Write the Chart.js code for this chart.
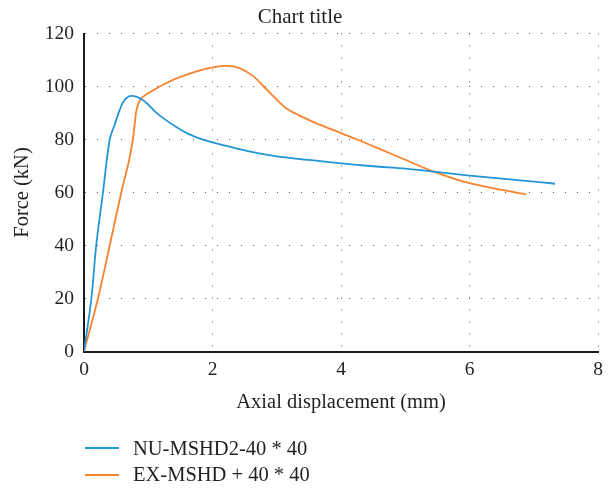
<!DOCTYPE html>
<html>
<head>
<meta charset="utf-8">
<title>Force - displacement</title>
<script src="https://cdn.jsdelivr.net/npm/chart.js@4.4.1/dist/chart.umd.min.js"></script>
<style>
    html, body { margin: 0; padding: 0; background: #fff; }
    #wrap { position: relative; width: 610px; height: 489px; }
    #legend {
        position: absolute; left: 85px; top: 435px;
        font-family: 'Liberation Serif', serif; font-size: 20.5px; color: #231f20;
    }
    .legend-item { display: flex; align-items: center; height: 26.5px; }
    .legend-line { width: 34px; height: 2px; margin-right: 14px; }
</style>
</head>
<body>
<div id="wrap">
    <canvas id="forceChart" width="610" height="489"></canvas>
    <div id="legend"></div>
</div>
<script>
// Load - displacement curves (x: mm, y: kN)
const nuDisp  = [0, 0.115, 0.19, 0.295, 0.40, 0.476, 0.555, 0.63, 0.735, 0.915, 1.17, 1.51, 1.75, 2.0, 2.4, 2.72, 3.0, 3.5, 4.0, 4.5, 5.0, 5.44, 6.0, 6.5, 7.0, 7.33];
const nuForce = [0, 20, 40, 60, 80, 85.5, 91.1, 94.9, 96.5, 94.9, 89.2, 83.6, 80.8, 78.9, 76.5, 74.8, 73.6, 72.3, 71.0, 69.9, 69.0, 67.9, 66.4, 65.2, 64.1, 63.3];

const exDisp  = [0, 0.217, 0.40, 0.58, 0.70, 0.76, 0.79, 0.82, 0.89, 1.07, 1.3, 1.5, 1.79, 2.0, 2.21, 2.41, 2.62, 2.80, 2.98, 3.14, 3.34, 3.60, 4.0, 4.27, 4.89, 5.44, 6.0, 6.5, 6.88];
const exForce = [0, 20, 40, 60, 72, 80, 86, 91.5, 95.5, 98.5, 101.5, 103.6, 106.0, 107.2, 107.8, 107.0, 104.1, 99.9, 95.5, 91.9, 89.2, 86.3, 82.4, 79.8, 73.5, 67.9, 63.5, 61.0, 59.3];

const seriesNames = ['NU-MSHD2-40 * 40', 'EX-MSHD + 40 * 40'];
const seriesColors = ['#2196d6', '#f7832f'];

const xTicks = [0, 2, 4, 6, 8];
const yTicks = [0, 20, 40, 60, 80, 100, 120];

const FONT = "'Liberation Serif', 'Times New Roman', serif";
const TEXT = '#231f20';

function toPoints(xs, ys) {
    return xs.map((x, i) => ({ x: x, y: ys[i] }));
}

function makeDataset(i, xs, ys) {
    return {
        label: seriesNames[i],
        data: toPoints(xs, ys),
        borderColor: seriesColors[i],
        backgroundColor: seriesColors[i],
        borderWidth: 1.8,
        pointRadius: 0,
        showLine: true,
        tension: 0.35
    };
}

const chart = new Chart(document.getElementById('forceChart'), {
    type: 'scatter',
    data: {
        datasets: [
            makeDataset(0, nuDisp, nuForce),
            makeDataset(1, exDisp, exForce)
        ]
    },
    options: {
        responsive: false,
        animation: false,
        layout: { padding: { left: 0, right: 10, top: 0, bottom: 72.5 } },
        plugins: {
            legend: { display: false },
            tooltip: { enabled: false },
            title: {
                display: true,
                text: 'Chart title',
                color: TEXT,
                font: { family: FONT, size: 21, weight: 'normal', lineHeight: 1.2 },
                padding: { top: 5, bottom: 3.3 }
            }
        },
        scales: {
            x: {
                type: 'linear',
                min: 0,
                max: 8,
                afterBuildTicks: axis => { axis.ticks = xTicks.map(v => ({ value: v })); },
                afterFit: axis => { axis.height = 65; },
                ticks: { color: TEXT, padding: 7, font: { family: FONT, size: 19.5 } },
                grid: {
                    drawTicks: false,
                    lineWidth: 1,
                    color: ctx => (ctx.tick && ctx.tick.value === 0) ? 'transparent' : '#5e5e5e'
                },
                border: { display: true, color: '#1a1a1a', width: 2, dash: [1, 11] },
                title: {
                    display: true,
                    text: 'Axial displacement (mm)',
                    color: TEXT,
                    font: { family: FONT, size: 20.5 },
                    padding: { top: 0, bottom: 2 }
                }
            },
            y: {
                type: 'linear',
                min: 0,
                max: 120,
                afterBuildTicks: axis => { axis.ticks = yTicks.map(v => ({ value: v })); },
                afterFit: axis => { axis.width = 84; },
                ticks: { color: TEXT, padding: 10, font: { family: FONT, size: 19.5 } },
                grid: {
                    drawTicks: false,
                    lineWidth: 1,
                    color: ctx => (ctx.tick && ctx.tick.value === 0) ? 'transparent' : '#5e5e5e'
                },
                border: { display: true, color: '#1a1a1a', width: 2, dash: [1, 11] },
                title: {
                    display: true,
                    text: 'Force (kN)',
                    color: TEXT,
                    font: { family: FONT, size: 20.5 },
                    padding: { top: 10, bottom: 0 }
                }
            }
        }
    }
});

// Legend below the plot, one series per row
const legendEl = document.getElementById('legend');
chart.data.datasets.forEach(ds => {
    const row = document.createElement('div');
    row.className = 'legend-item';
    const line = document.createElement('span');
    line.className = 'legend-line';
    line.style.background = ds.borderColor;
    const label = document.createElement('span');
    label.textContent = ds.label;
    row.appendChild(line);
    row.appendChild(label);
    legendEl.appendChild(row);
});
</script>
</body>
</html>
